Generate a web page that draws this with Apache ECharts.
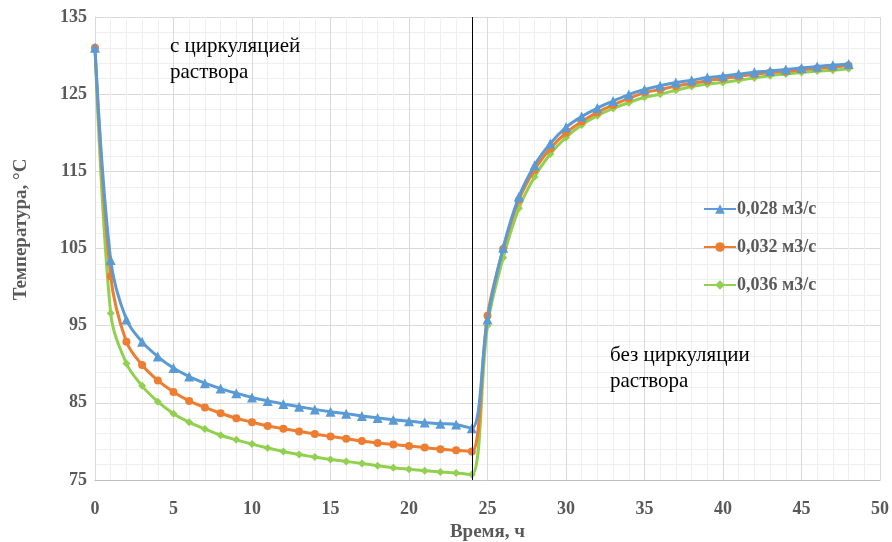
<!DOCTYPE html>
<html>
<head>
<meta charset="utf-8">
<script src="https://cdn.jsdelivr.net/npm/echarts@6/dist/echarts.min.js"></script>
<style>
html,body{margin:0;padding:0;background:#fff;}
#c{width:892px;height:542px;}
</style>
</head>
<body>
<div id="c"></div>
<script>
const hours = [0,1,2,3,4,5,6,7,8,9,10,11,12,13,14,15,16,17,18,19,20,21,22,23,24,25,26,27,28,29,30,31,32,33,34,35,36,37,38,39,40,41,42,43,44,45,46,47,48];
const seriesNames = ['0,028 м3/с','0,032 м3/с','0,036 м3/с'];
const t028 = [131.0,103.5,95.8,92.9,91.0,89.5,88.4,87.55,86.85,86.25,85.7,85.25,84.85,84.5,84.15,83.85,83.6,83.3,83.05,82.8,82.6,82.45,82.3,82.2,81.7,
              95.8,105.1,111.7,115.8,118.6,120.7,122.1,123.2,124.1,124.95,125.6,126.1,126.5,126.8,127.15,127.35,127.6,127.85,128.0,128.2,128.4,128.6,128.75,128.9];
const t032 = [131.0,101.4,92.9,89.9,87.9,86.4,85.25,84.4,83.65,83.0,82.5,82.0,81.65,81.3,80.95,80.65,80.35,80.05,79.8,79.6,79.4,79.2,79.0,78.85,78.7,
              96.3,104.95,111.3,115.2,117.95,120.0,121.45,122.65,123.6,124.45,125.2,125.6,126.05,126.4,126.75,127.0,127.3,127.55,127.8,127.95,128.15,128.35,128.5,128.7];
const t036 = [131.0,96.6,90.1,87.2,85.15,83.6,82.5,81.6,80.8,80.2,79.65,79.15,78.7,78.3,77.97,77.65,77.4,77.15,76.85,76.6,76.4,76.2,76.05,75.9,75.7,
              95.0,103.8,110.2,114.3,117.25,119.4,121.0,122.2,123.15,123.9,124.6,125.0,125.5,126.0,126.3,126.5,126.8,127.1,127.4,127.6,127.8,128.0,128.1,128.3];
const xTicks = [0,5,10,15,20,25,30,35,40,45,50];
const yTicks = [75,85,95,105,115,125,135];
const switchHour = 24;
const labelTop = ['с циркуляцией','раствора'];
const labelBottom = ['без циркуляции','раствора'];

const colors = ['#5B9BD5','#ED7D31','#92D050'];
const symbols = ['triangle','circle','diamond'];
const symbolSizes = [10,8,8];
const values = [t028,t032,t036];

const serif = '"Liberation Serif","Times New Roman",serif';

const series = values.map((v,i)=>({
  name: seriesNames[i],
  type: 'line',
  smooth: 0.35,
  data: hours.map((h,j)=>[h,v[j]]),
  symbol: symbols[i],
  symbolSize: symbolSizes[i],
  showSymbol: true,
  lineStyle: {color: colors[i], width: 3},
  itemStyle: {color: colors[i]},
  z: 3 - i,
  markLine: i===0 ? {
    silent: true,
    symbol: ['none','none'],
    label: {show:false},
    lineStyle: {color:'#000', width:1, type:'solid'},
    data: [{xAxis: switchHour}],
    animation: false
  } : undefined
}));

const chart = echarts.init(document.getElementById('c'), null, {renderer:'canvas'});
chart.setOption({
  animation: false,
  backgroundColor: '#fff',
  grid: {left: 95, right: 12, top: 17, bottom: 62, containLabel: false, outerBoundsMode: 'none'},
  xAxis: {
    type: 'value', min: 0, max: 50, interval: 5,
    name: 'Время, ч', nameLocation: 'middle', nameGap: 42,
    nameTextStyle: {fontFamily: serif, fontWeight: 'bold', fontSize: 19, color: '#595959'},
    axisLine: {show: true, lineStyle: {color: '#bfbfbf', width: 1}},
    axisTick: {show: false},
    axisLabel: {fontFamily: serif, fontWeight: 'bold', fontSize: 18, color: '#595959', margin: 20,
      formatter: v => xTicks.includes(v) ? String(v) : ''},
    splitLine: {show: true, lineStyle: {color: '#d9d9d9', width: 1}},
    minorTick: {show: false, splitNumber: 5},
    minorSplitLine: {show: true, lineStyle: {color: '#efefef', width: 1}}
  },
  yAxis: {
    type: 'value', min: 75, max: 135, interval: 10,
    name: 'Температура, °С', nameLocation: 'middle', nameGap: 64, nameRotate: 90,
    nameTextStyle: {fontFamily: serif, fontWeight: 'bold', fontSize: 19, color: '#595959', padding: [0,0,0,38]},
    axisLine: {show: true, lineStyle: {color: '#d9d9d9', width: 1}},
    axisTick: {show: false},
    axisLabel: {fontFamily: serif, fontWeight: 'bold', fontSize: 18, color: '#595959', margin: 8,
      formatter: v => yTicks.includes(v) ? String(v) : ''},
    splitLine: {show: true, lineStyle: {color: '#d9d9d9', width: 1}},
    minorTick: {show: false, splitNumber: 5},
    minorSplitLine: {show: true, lineStyle: {color: '#efefef', width: 1}}
  },
  legend: {
    orient: 'vertical', left: 698, top: 195, itemGap: 20,
    itemWidth: 32, itemHeight: 12,
    data: seriesNames,
    textStyle: {fontFamily: serif, fontWeight: 'bold', fontSize: 18, color: '#595959', padding: [0,0,0,-4]}
  },
  graphic: [
    {type:'text', z: 100, left: 170, top: 33, style: {text: labelTop.join('\n'), font: '21px ' + serif, fill: '#000', lineHeight: 26}},
    {type:'text', z: 100, left: 610, top: 342, style: {text: labelBottom.join('\n'), font: '21px ' + serif, fill: '#000', lineHeight: 26}}
  ],
  series: series
});
</script>
</body>
</html>
